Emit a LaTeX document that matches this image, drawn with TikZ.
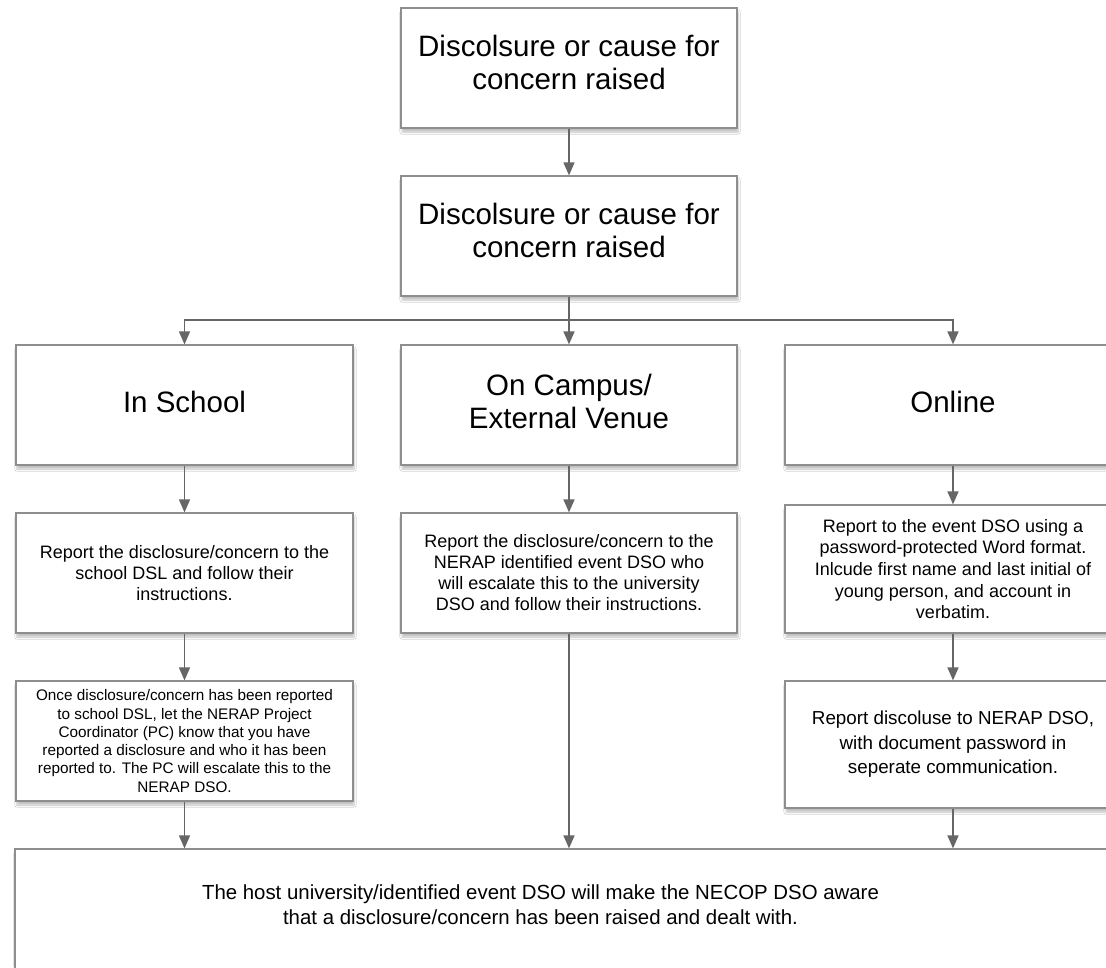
\documentclass[tikz,border=0pt]{standalone}
\usepackage{fontspec}
\setmainfont{Liberation Sans}
\usetikzlibrary{arrows.meta,shadows.blur}
\definecolor{boxline}{HTML}{8E8E8E}
\definecolor{arrowc}{HTML}{666666}
\newcommand\liftup[2]{\raisebox{#1}[\height][\depth]{\begin{tabular}{@{}c@{}}#2\end{tabular}}}
\tikzset{
  box/.style={draw=boxline, line width=1.2pt, fill=white, align=center, inner sep=0pt,
    blur shadow={shadow xshift=1pt, shadow yshift=-4pt, shadow blur steps=6, shadow opacity=25}},
  bigtxt/.style={font=\fontsize{29.5}{33}\selectfont},
  midtxt/.style={font=\fontsize{18}{21}\selectfont},
  smalltxt/.style={font=\fontsize{15.3}{18.3}\selectfont},
  conn/.style={draw=arrowc, line width=1.5pt, -{Triangle[length=13pt,width=11pt]}},
  plain/.style={draw=arrowc, line width=1.5pt},
}
\begin{document}
\begin{tikzpicture}[x=1pt,y=-1pt]
\useasboundingbox (0,0) rectangle (1106,967);
\clip (0,0) rectangle (1106,967);
\fill[white] (0,0) rectangle (1106,967);
% row 0
\node[box,bigtxt,minimum width=336pt,minimum height=120pt] (top) at (569,68) {\liftup{2pt}{Discolsure or cause for\\concern raised}};
\node[box,bigtxt,minimum width=336pt,minimum height=120pt] (second) at (569,236) {\liftup{2pt}{Discolsure or cause for\\concern raised}};
% row 1
\node[box,bigtxt,minimum width=337pt,minimum height=120pt] (school) at (184.5,405) {\liftup{-1pt}{In School}};
\node[box,bigtxt,minimum width=336pt,minimum height=120pt] (campus) at (569,405) {\liftup{0pt}{On Campus/\\External Venue}};
\node[box,bigtxt,minimum width=336pt,minimum height=120pt] (online) at (953,405) {\liftup{-1pt}{Online}};
% row 2
\node[box,midtxt,minimum width=337pt,minimum height=120pt] (school2) at (184.5,573) {Report the disclosure/concern to the\\school DSL and follow their\\instructions.};
\node[box,midtxt,minimum width=336pt,minimum height=120pt] (campus2) at (569,573) {Report the disclosure/concern to the\\NERAP identified event DSO who\\will escalate this to the university\\DSO and follow their instructions.};
\node[box,midtxt,font=\fontsize{18}{21.7}\selectfont,minimum width=336pt,minimum height=128pt] (online2) at (953,569) {Report to the event DSO using a\\password-protected Word format.\\Inlcude first name and last initial of\\young person, and account in\\verbatim.};
% row 3
\node[box,smalltxt,minimum width=337pt,minimum height=120pt] (school3) at (184.5,741) {Once disclosure/concern has been reported\\to school DSL, let the NERAP Project\\Coordinator (PC) know that you have\\reported a disclosure and who it has been\\reported to. The PC will escalate this to the\\NERAP DSO.};
\node[box,font=\fontsize{18.8}{24.5}\selectfont,minimum width=336pt,minimum height=127pt] (online3) at (953,744.5) {Report discoluse to NERAP DSO,\\with document password in\\seperate communication.};
% bottom
\node[box,minimum width=1135pt,minimum height=161pt] (bottom) at (582.5,929.5) {};
\node[font=\fontsize{20.4}{25}\selectfont,align=center] (bottomtext) at (540.5,905) {The host university/identified event DSO will make the NECOP DSO aware\\that a disclosure/concern has been raised and dealt with.};
% connectors
\coordinate (jn) at (569,320);
\draw[conn] (top) -- (second);
\draw[conn] (second) -- (campus);
\draw[plain] (school.north |- jn) -- (online.north |- jn);
\draw[conn] (jn) -| (school.north);
\draw[conn] (jn) -| (online.north);
\draw[conn] (school) -- (school2);
\draw[conn] (school2) -- (school3);
\draw[conn] (school3.south) -- (school3.south |- bottom.north);
\draw[conn] (campus) -- (campus2);
\draw[conn] (campus2.south) -- (campus2.south |- bottom.north);
\draw[conn] (online) -- (online2);
\draw[conn] (online2) -- (online3);
\draw[conn] (online3.south) -- (online3.south |- bottom.north);
\end{tikzpicture}
\end{document}
